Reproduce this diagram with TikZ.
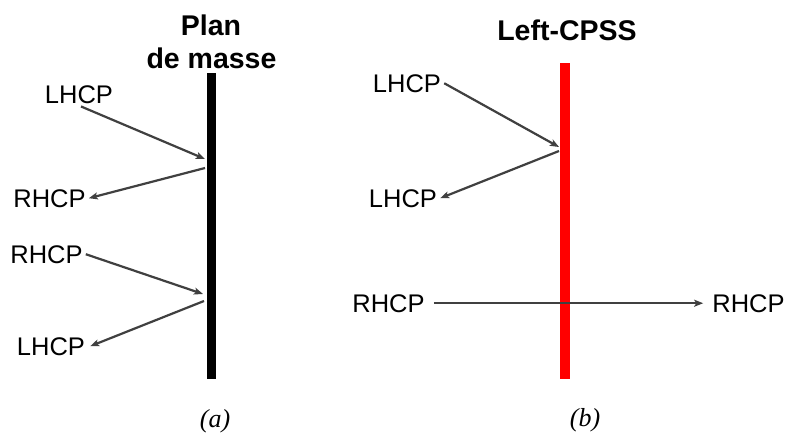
\documentclass[tikz,border=0pt]{standalone}
\usepackage{fontspec}
\setmainfont{Liberation Sans}
\newfontfamily\capfont{Liberation Serif}
\usetikzlibrary{arrows.meta}
\definecolor{arrowgray}{HTML}{404040}
\definecolor{cpssred}{HTML}{FF0000}
\tikzset{
  lbl/.style={anchor=base,inner sep=3pt,font=\fontsize{25.5}{28}\selectfont},
  ttl/.style={anchor=base,inner sep=0pt,font=\fontsize{28.5}{33}\selectfont\bfseries},
  captext/.style={inner sep=0pt,font=\capfont\itshape\fontsize{26}{30}\selectfont},
  ray/.style={draw=arrowgray,line width=2.2pt,-{Stealth[length=9pt,width=7pt,inset=2pt]}}
}
\begin{document}
\begin{tikzpicture}[x=1pt,y=-1pt]
\useasboundingbox (0,0) rectangle (787,434);
\fill[white] (0,0) rectangle (787,434);
% bars
\fill[black] (207,73) rectangle (215.5,379);
\fill[cpssred] (560,63) rectangle (570,379);
% titles
\node[ttl] (t1) at (211,35) {Plan};
\node[ttl] (t2) at (211.5,68) {de masse};
\node[ttl] (t3) at (567,40) {Left-CPSS};
% labels panel a
\node[lbl] (lhcpA) at (79,103) {LHCP};
\node[lbl] (rhcpA) at (49.5,207) {RHCP};
\node[lbl] (rhcpB) at (46.5,263) {RHCP};
\node[lbl] (lhcpB) at (51,355) {LHCP};
% labels panel b
\node[lbl] (lhcpC) at (407,92) {LHCP};
\node[lbl] (lhcpD) at (403,207) {LHCP};
\node[lbl] (rhcpC) at (388.5,312) {RHCP};
\node[lbl] (rhcpD) at (748.5,312) {RHCP};
% points on the surfaces
\coordinate (a1) at (205,159);
\coordinate (a2) at (205,168);
\coordinate (a3) at (203,294);
\coordinate (a4) at (204,301);
\coordinate (b1) at (559,147);
\coordinate (b2) at (559,151);
% rays
\draw[ray] ([xshift=2pt]lhcpA.south) -- (a1);
\draw[ray] (a2) -- (rhcpA.east);
\draw[ray] (rhcpB.east) -- (a3);
\draw[ray] (a4) -- ([xshift=2pt]lhcpB.east);
\draw[ray] (lhcpC.east) -- (b1);
\draw[ray] (b2) -- (lhcpD.east);
\draw[ray] ([xshift=6pt]rhcpC.east) -- ([xshift=-6pt]rhcpD.west);
% captions
\node[captext] (capa) at (215,421) {(a)};
\node[captext] (capb) at (585,420) {(b)};
\end{tikzpicture}
\end{document}
